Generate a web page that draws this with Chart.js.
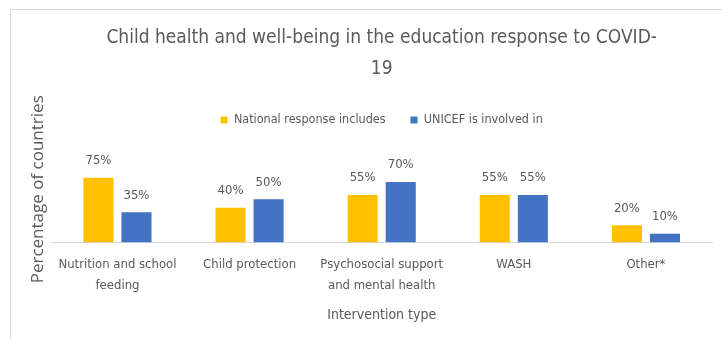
<!DOCTYPE html>
<html>
<head>
<meta charset="utf-8">
<script src="https://cdn.jsdelivr.net/npm/chart.js@4"></script>
<style>
  html, body { margin: 0; padding: 0; background: #ffffff; }
  #wrap { position: relative; width: 722px; height: 339px; overflow: hidden; }
  #frame { position: absolute; left: 10px; top: 9px; width: 800px; height: 400px; border: 1px solid #d9d9d9; }
  #myChart { position: absolute; left: 0; top: 0; }
</style>
</head>
<body>
<div id="wrap">
  <div id="frame"></div>
  <canvas id="myChart" width="722" height="339"></canvas>
</div>
<script>
// Chart data
const categories = [
    ["Nutrition and school", "feeding"],
    "Child protection",
    ["Psychosocial support", "and mental health"],
    "WASH",
    "Other*"
];
const nationalResponse = [75, 40, 55, 55, 20];
const unicefInvolved = [35, 50, 70, 55, 10];
const seriesNames = ["National response includes", "UNICEF is involved in"];

const FONT = "'Liberation Sans Narrow', 'DejaVu Sans Condensed', sans-serif";
const GREY = '#595959';

// Draw the percentage label above every bar
const barLabels = {
    id: 'barLabels',
    afterDatasetsDraw(chart) {
        const ctx = chart.ctx;
        ctx.save();
        ctx.font = '13px ' + FONT;
        ctx.fillStyle = GREY;
        ctx.textAlign = 'center';
        ctx.textBaseline = 'middle';
        chart.data.datasets.forEach((ds, i) => {
            chart.getDatasetMeta(i).data.forEach((bar, j) => {
                ctx.fillText(ds.data[j] + '%', bar.x, bar.y - 17);
            });
        });
        ctx.restore();
    }
};

new Chart(document.getElementById('myChart').getContext('2d'), {
    type: 'bar',
    data: {
        labels: categories,
        datasets: [
            { label: seriesNames[0], data: nationalResponse, backgroundColor: '#FFC000',
              categoryPercentage: 0.576, barPercentage: 0.79 },
            { label: seriesNames[1], data: unicefInvolved, backgroundColor: '#4472C4',
              categoryPercentage: 0.576, barPercentage: 0.79 }
        ]
    },
    options: {
        responsive: false,
        animation: false,
        layout: { padding: { left: 25, right: 10, top: 0, bottom: 17 } },
        scales: {
            x: {
                grid: { display: false, drawTicks: false },
                border: { display: true, color: '#d9d9d9', width: 1 },
                ticks: { color: GREY, font: { family: FONT, size: 13, lineHeight: 1.6 }, padding: 12, maxRotation: 0, autoSkip: false },
                title: { display: true, text: 'Intervention type', color: GREY,
                         font: { family: FONT, size: 14, lineHeight: 1.0 }, padding: { top: 0, bottom: 0 } }
            },
            y: {
                min: 0,
                max: 123,
                grid: { display: false, drawTicks: false },
                border: { display: false },
                ticks: { display: false },
                title: { display: true, text: 'Percentage of countries', color: GREY,
                         font: { family: "'Open Sans', sans-serif", size: 17, lineHeight: 1.2 }, padding: { top: 3, bottom: 3 } }
            }
        },
        plugins: {
            title: {
                display: true,
                fullSize: false,
                text: ['Child health and well-being in the education response to COVID-', '19'],
                color: GREY,
                font: { family: FONT, size: 19, weight: 'normal', lineHeight: 1.65 },
                padding: { top: 22, bottom: 4 }
            },
            legend: {
                fullSize: false,
                labels: { color: GREY, boxWidth: 7, boxHeight: 7, padding: 25,
                          font: { family: FONT, size: 12.5 } }
            },
            tooltip: { enabled: false }
        }
    },
    plugins: [barLabels]
});
</script>
</body>
</html>
